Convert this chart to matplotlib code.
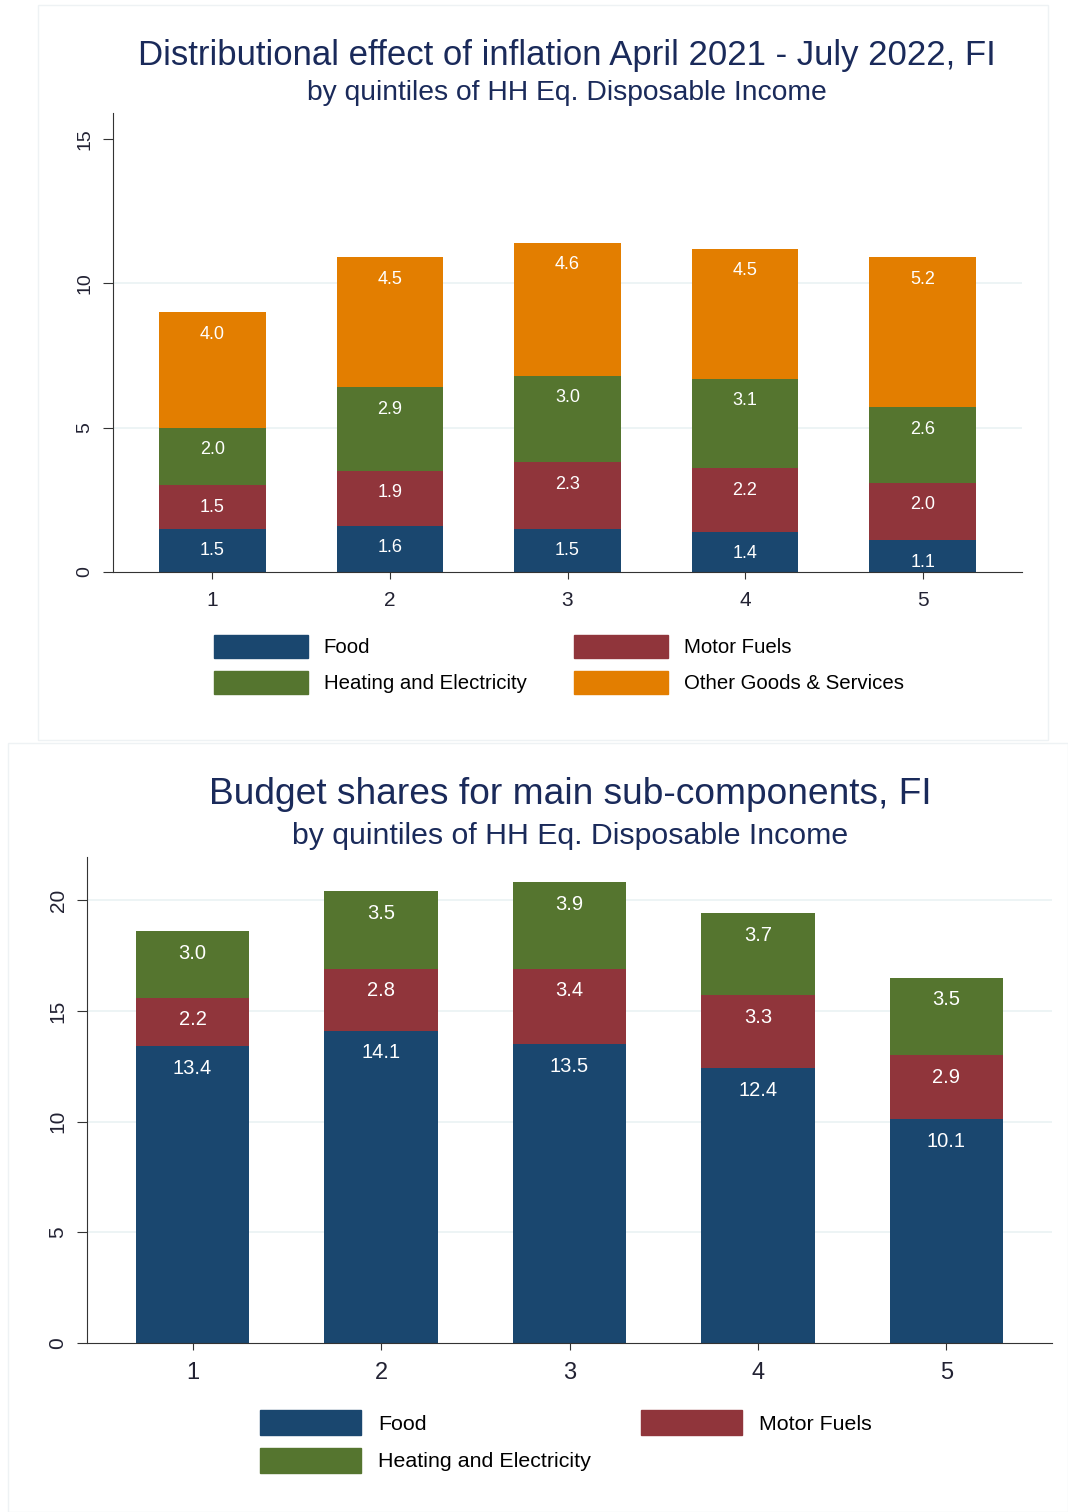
import matplotlib.pyplot as plt
import numpy as np
from matplotlib.patches import Rectangle, Patch

plt.rcParams['font.family'] = ['Liberation Sans', 'DejaVu Sans']

quintiles = [1, 2, 3, 4, 5]

# inflation contributions (pp)
infl_food = [1.5, 1.6, 1.5, 1.4, 1.1]
infl_motor = [1.5, 1.9, 2.3, 2.2, 2.0]
infl_heat = [2.0, 2.9, 3.0, 3.1, 2.6]
infl_other = [4.0, 4.5, 4.6, 4.5, 5.2]

# budget shares (%)
share_food = [13.4, 14.1, 13.5, 12.4, 10.1]
share_motor = [2.2, 2.8, 3.4, 3.3, 2.9]
share_heat = [3.0, 3.5, 3.9, 3.7, 3.5]

c_food = '#1a476f'
c_motor = '#90353b'
c_heat = '#55752f'
c_other = '#e37e00'
txt = '#1a2a5a'

fig = plt.figure(figsize=(10.68, 15.12), dpi=100)

# faint panel frames
fig.add_artist(Rectangle((38/1068, 1-740/1512), 1010/1068, 735/1512, transform=fig.transFigure,
                         fill=False, edgecolor='#eef2f4', lw=1))
fig.add_artist(Rectangle((8/1068, 0.0), 1060/1068, 769/1512, transform=fig.transFigure,
                         fill=False, edgecolor='#eef2f4', lw=1))


def stacked(ax, series, colors, labels, ymax, yticks, gridticks, lsize):
    bottom = np.zeros(len(quintiles))
    handles = []
    for vals, col, lab in zip(series, colors, labels):
        bars = ax.bar(quintiles, vals, 0.6, bottom=bottom, color=col, label=lab, zorder=2)
        for rect, v in zip(bars, vals):
            ax.annotate(f'{v:.1f}', (rect.get_x() + rect.get_width() / 2, rect.get_y() + rect.get_height()),
                        xytext=(0, -22), textcoords='offset pixels', ha='center', va='center',
                        color='white', fontsize=lsize, zorder=3)
        bottom += np.array(vals)
        handles.append(Patch(color=col, label=lab))
    for g in gridticks:
        ax.axhline(g, color='#eaf2f3', lw=1.2, zorder=1)
    ax.set_xlim(0.44, 5.56)
    ax.set_ylim(0, ymax)
    ax.set_yticks(yticks)
    ax.set_xticks(quintiles)
    ax.tick_params(axis='y', labelrotation=90, length=7, pad=7, color='#333333', labelcolor='#222233')
    ax.tick_params(axis='x', length=5, pad=9, color='#333333', labelcolor='#222233')
    for lab in ax.get_yticklabels():
        lab.set_va('center')
    ax.spines['top'].set_visible(False)
    ax.spines['right'].set_visible(False)
    ax.spines['left'].set_color('#333333')
    ax.spines['bottom'].set_color('#333333')
    return handles


# top chart
ax1 = fig.add_axes([113/1068, 1-572/1512, 909/1068, 459/1512])
h1 = stacked(ax1, [infl_food, infl_motor, infl_heat, infl_other],
             [c_food, c_motor, c_heat, c_other],
             ['Food', 'Motor Fuels', 'Heating and Electricity', 'Other Goods & Services'],
             15.9, [0, 5, 10, 15], [5, 10], 13)
ax1.tick_params(axis='x', labelsize=15)
ax1.tick_params(axis='y', labelsize=14)
fig.text(567/1068, 1-55/1512, 'Distributional effect of inflation April 2021 - July 2022, FI',
         ha='center', va='center', fontsize=25, color=txt)
fig.text(567/1068, 1-93/1512, 'by quintiles of HH Eq. Disposable Income',
         ha='center', va='center', fontsize=20.3, color=txt)
fig.legend(handles=[h1[0], h1[2], h1[1], h1[3]], ncol=2, loc='center left',
           bbox_to_anchor=(214/1068, 1-664.5/1512), frameon=False, fontsize=14.7,
           borderpad=0, borderaxespad=0,
           handlelength=4.6, handleheight=1.41, columnspacing=2.3, handletextpad=0.78,
           labelspacing=0.59)

# bottom chart
ax2 = fig.add_axes([87/1068, 1-1343/1512, 965/1068, 486/1512])
h2 = stacked(ax2, [share_food, share_motor, share_heat],
             [c_food, c_motor, c_heat],
             ['Food', 'Motor Fuels', 'Heating and Electricity'],
             21.95, [0, 5, 10, 15, 20], [5, 10, 15, 20], 14.5)
ax2.tick_params(axis='x', labelsize=17)
ax2.tick_params(axis='y', labelsize=15)
fig.text(570/1068, 1-795/1512, 'Budget shares for main sub-components, FI',
         ha='center', va='center', fontsize=26.7, color=txt)
fig.text(570/1068, 1-836/1512, 'by quintiles of HH Eq. Disposable Income',
         ha='center', va='center', fontsize=21.8, color=txt)
fig.legend(handles=[h2[0], h2[2], h2[1]], ncol=2, loc='center left',
           bbox_to_anchor=(260/1068, 1-1441.5/1512), frameon=False, fontsize=15.4,
           borderpad=0, borderaxespad=0,
           handlelength=4.72, handleheight=1.4, columnspacing=2.34, handletextpad=0.8,
           labelspacing=0.61)

fig.savefig('out.png', dpi=100, facecolor='white')
